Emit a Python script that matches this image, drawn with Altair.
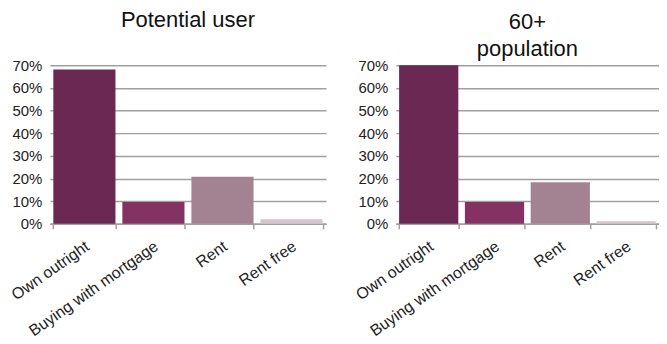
import altair as alt
import pandas as pd

categories = ["Own outright", "Buying with mortgage", "Rent", "Rent free"]
potential_user = [0.682, 0.097, 0.208, 0.02]
population_60 = [0.70, 0.096, 0.184, 0.012]
colors = ["#6B2852", "#833263", "#A38291", "#D5C5CC"]

FONT = "Liberation Sans"


def panel(values, title, offset, width):
    df = pd.DataFrame({"category": categories, "value": values})
    return (
        alt.Chart(df)
        .mark_bar()
        .encode(
            x=alt.X(
                "category:N",
                sort=categories,
                title=None,
                scale=alt.Scale(paddingInner=0.1, paddingOuter=0.05),
                axis=alt.Axis(
                    labelAngle=-35,
                    labelAlign="right",
                    labelBaseline="top",
                    labelFontSize=16,
                    labelFont=FONT,
                    labelColor="#222222",
                    labelPadding=9,
                    labelOffset=-2,
                    tickBand="extent",
                    tickSize=5,
                    tickColor="#A0A0A0",
                    tickWidth=1.5,
                    domainColor="#A0A0A0",
                    domainWidth=1.5,
                    grid=False,
                ),
            ),
            y=alt.Y(
                "value:Q",
                title=None,
                scale=alt.Scale(domain=[0, 0.7], nice=False),
                axis=alt.Axis(
                    values=[0, 0.1, 0.2, 0.3, 0.4, 0.5, 0.6, 0.7],
                    format=".0%",
                    labelFontSize=15,
                    labelFont=FONT,
                    labelColor="#222222",
                    labelPadding=8,
                    ticks=False,
                    domain=False,
                    gridColor="#A0A0A0",
                    gridWidth=1.5,
                ),
            ),
            color=alt.Color(
                "category:N",
                sort=categories,
                scale=alt.Scale(domain=categories, range=colors),
                legend=None,
            ),
        )
        .properties(
            width=width,
            height=159,
            title=alt.TitleParams(
                text=title,
                fontSize=22,
                font=FONT,
                fontWeight="normal",
                color="#111111",
                anchor="middle",
                lineHeight=27,
                offset=offset,
            ),
        )
    )


left = panel(potential_user, "Potential user", 26, 277)
right = panel(population_60, ["60+", "population"], -3, 264)

chart = (
    alt.hconcat(left, right, spacing=26)
    .properties(padding={"left": 0, "top": 1, "right": 0, "bottom": 0})
    .configure_view(stroke=None)
)

chart.save("out.html", embed_options={"renderer": "svg", "actions": False})
